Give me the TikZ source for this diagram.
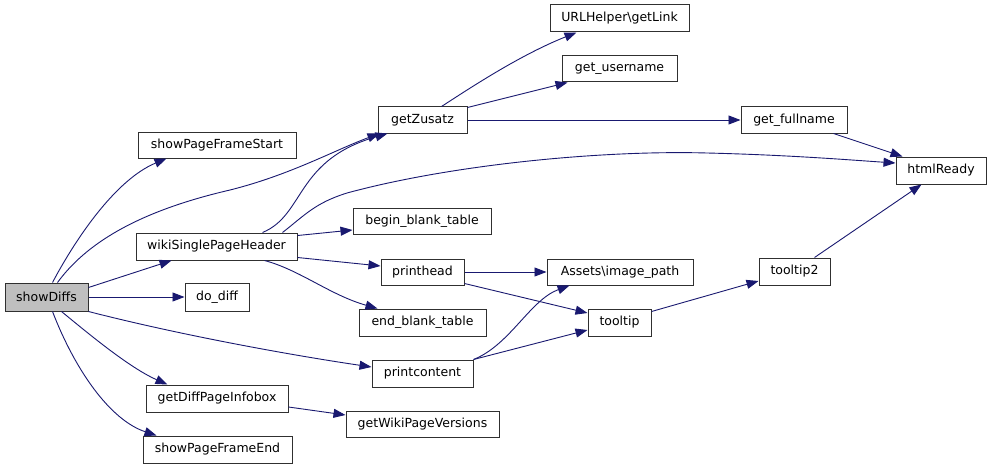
\documentclass[tikz,border=0pt]{standalone}
\usepackage{fontspec}
\setmainfont{DejaVu Sans}
\usetikzlibrary{arrows.meta}
\definecolor{edgeblue}{HTML}{191970}
\definecolor{boxgray}{HTML}{BFBFBF}
\definecolor{boxline}{HTML}{303030}
\begin{document}
\begin{tikzpicture}[x=1pt,y=-1pt,
  box/.style={draw=boxline,line width=1pt,fill=white,inner sep=0pt,anchor=center,font=\fontsize{12.5}{14}\selectfont},
  edge/.style={draw=edgeblue,line width=0.9pt,-{Triangle[length=12pt,width=9pt]}},
]
\useasboundingbox[fill=white] (0,0) rectangle (992,468);
% nodes
\node[box,fill=boxgray,minimum width=83pt,minimum height=28pt] (showDiffs) at (46.5,297) {showDiffs};
\node[box,minimum width=158pt,minimum height=26pt] (spfs) at (217,145) {showPageFrameStart};
\node[box,minimum width=161pt,minimum height=27pt] (wsph) at (216.5,246.5) {wikiSinglePageHeader};
\node[box,minimum width=64pt,minimum height=28pt] (dodiff) at (217,297) {do\_diff};
\node[box,minimum width=142pt,minimum height=27pt] (gdpi) at (217,398.5) {getDiffPageInfobox};
\node[box,minimum width=149pt,minimum height=27pt] (spfe) at (217.5,449.5) {showPageFrameEnd};
\node[box,minimum width=139pt,minimum height=27pt] (urlh) at (619.5,18.5) {URLHelper\textbackslash getLink};
\node[box,minimum width=115pt,minimum height=26pt] (guser) at (619.5,69) {get\_username};
\node[box,minimum width=89pt,minimum height=26pt] (gzus) at (422.5,120) {getZusatz};
\node[box,minimum width=138pt,minimum height=26pt] (bbt) at (422,221) {begin\_blank\_table};
\node[box,minimum width=83pt,minimum height=26pt] (phead) at (422.5,272) {printhead};
\node[box,minimum width=146pt,minimum height=26pt] (aimg) at (620,272) {Assets\textbackslash image\_path};
\node[box,minimum width=127pt,minimum height=27pt] (ebt) at (422.5,322.5) {end\_blank\_table};
\node[box,minimum width=63pt,minimum height=27pt] (ttip) at (619.5,322.5) {tooltip};
\node[box,minimum width=101pt,minimum height=27pt] (pcont) at (422.5,373.5) {printcontent};
\node[box,minimum width=153pt,minimum height=26pt] (gwpv) at (422.5,424) {getWikiPageVersions};
\node[box,minimum width=106pt,minimum height=26pt] (gfull) at (794,120) {get\_fullname};
\node[box,minimum width=90pt,minimum height=27pt] (html) at (941,170.5) {htmlReady};
\node[box,minimum width=71pt,minimum height=27pt] (ttip2) at (794.5,271.5) {tooltip2};
% edges from showDiffs
\draw[edge] ([xshift=48pt]showDiffs.north west) .. controls (75,240) and (115,180) .. ([xshift=29pt]spfs.south west);
\draw[edge] ([xshift=53pt]showDiffs.north west) .. controls (85,245) and (135,212) .. (230,190) .. controls (290,175) and (335,150) .. ([xshift=2pt]gzus.south west);
\draw[edge] ([yshift=-5pt]showDiffs.north east) -- ([xshift=36pt]wsph.south west);
\draw[edge] (showDiffs.east) -- (dodiff.west);
\draw[edge] (showDiffs.south east) .. controls (180,335) and (290,355) .. ([yshift=6.5pt]pcont.west);
\draw[edge] ([xshift=57pt]showDiffs.south west) .. controls (90,335) and (130,368) .. ([xshift=22pt]gdpi.north west);
\draw[edge] ([xshift=48pt]showDiffs.south west) .. controls (75,370) and (110,420) .. ([xshift=14pt]spfe.north west);
% edges from wikiSinglePageHeader
\draw[edge] ([xshift=127pt]wsph.north west) .. controls (305,215) and (295,160) .. ([xshift=10pt]gzus.south west);
\draw[edge] ([xshift=147pt]wsph.north west) .. controls (305,215) and (315,203) .. (347,193) .. controls (450,165) and (600,150) .. (707,153) .. controls (790,155) and (850,160) .. ([yshift=7.5pt]html.west);
\draw[edge] ([yshift=-3pt]wsph.north east) -- ([yshift=-9pt]bbt.west);
\draw[edge] ([yshift=3pt]wsph.south east) -- ([yshift=6pt]phead.west);
\draw[edge] ([xshift=129pt]wsph.south west) .. controls (300,270) and (330,295) .. ([xshift=19pt]ebt.north west);
% edges from getZusatz
\draw[edge] ([xshift=64pt]gzus.north west) .. controls (470,88) and (520,55) .. ([xshift=27pt]urlh.south west);
\draw[edge] ([yshift=-1pt]gzus.north east) -- ([xshift=6pt]guser.south west);
\draw[edge] (gzus.east) -- (gfull.west);
\draw[edge] ([xshift=-14pt]gfull.south east) -- ([xshift=7pt]html.north west);
% printhead / printcontent
\draw[edge] (phead.east) -- (aimg.west);
\draw[edge] ([yshift=2pt]phead.south east) -- ([yshift=9.5pt]ttip.west);
\draw[edge] (pcont.north east) .. controls (510,345) and (530,300) .. ([xshift=23pt]aimg.south west);
\draw[edge] (pcont.north east) -- ([yshift=-7.5pt]ttip.west);
% tooltip chain
\draw[edge] ([yshift=-3pt]ttip.north east) -- ([yshift=-9.5pt]ttip2.west);
\draw[edge] ([xshift=56pt]ttip2.north west) -- ([xshift=26pt]html.south west);
% infobox
\draw[edge] ([yshift=-8.5pt]gdpi.east) -- ([yshift=9pt]gwpv.west);
\end{tikzpicture}
\end{document}
